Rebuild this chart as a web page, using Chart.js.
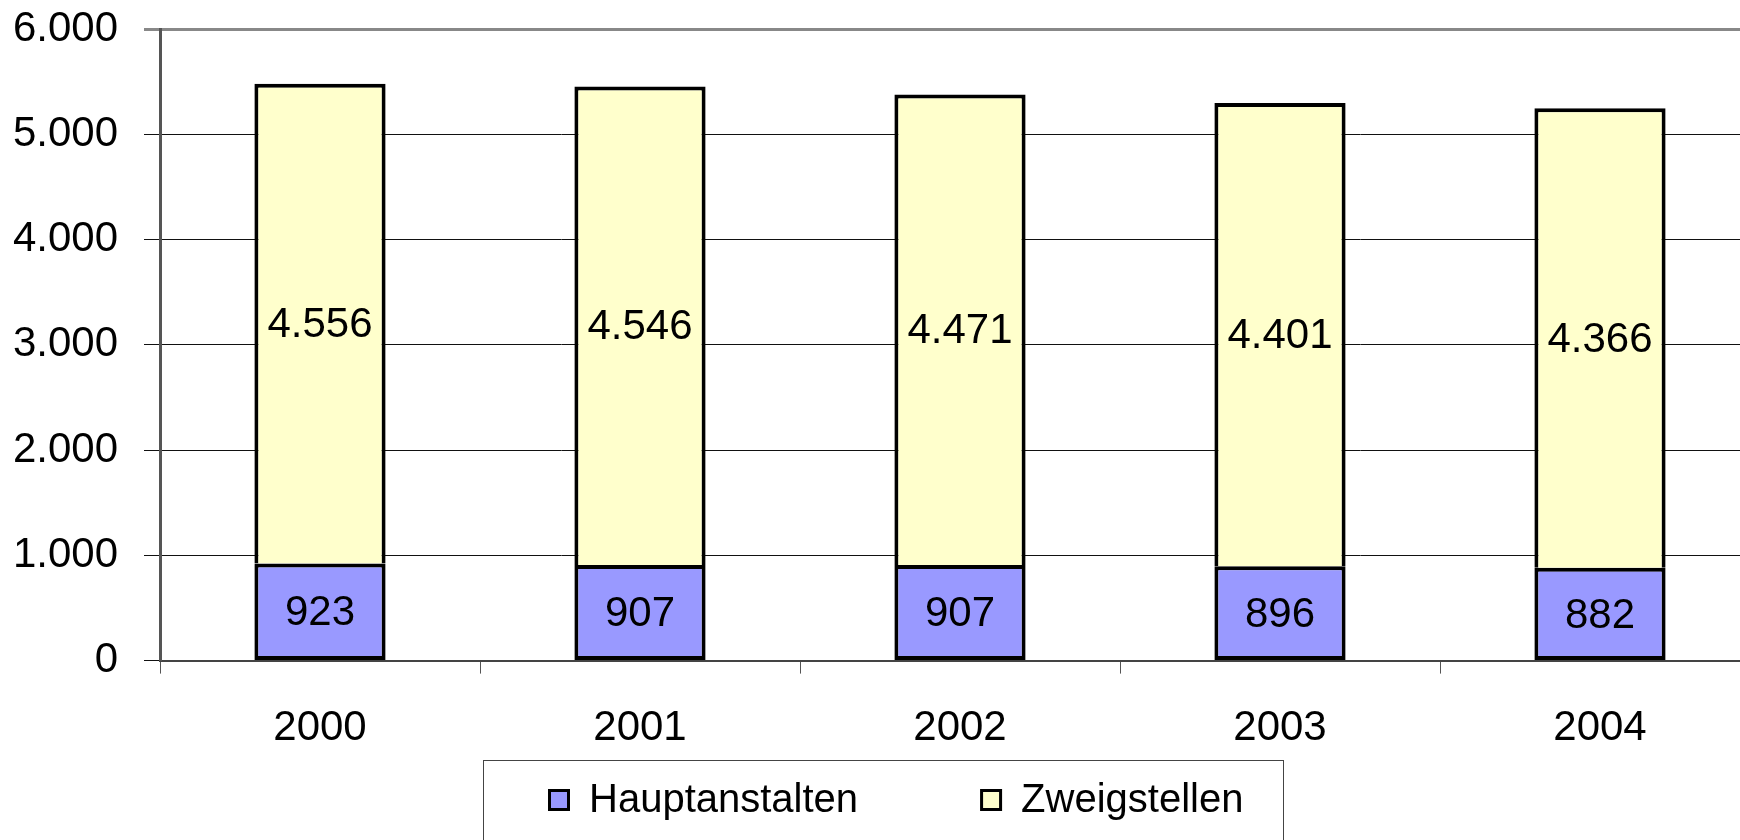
<!DOCTYPE html>
<html>
<head>
<meta charset="utf-8">
<script src="https://cdn.jsdelivr.net/npm/chart.js@4/dist/chart.umd.min.js"></script>
<style>
  html, body { margin: 0; padding: 0; background: #fff; overflow: hidden; }
  #wrap { width: 1780px; height: 840px; }
</style>
</head>
<body>
<div id="wrap"><canvas id="chart" width="1780" height="840"></canvas></div>
<script>
var years = ["2000", "2001", "2002", "2003", "2004"];
var hauptanstalten = [923, 907, 907, 896, 882];
var zweigstellen = [4556, 4546, 4471, 4401, 4366];
var seriesNames = ["Hauptanstalten", "Zweigstellen"];
var yTicks = [0, 1000, 2000, 3000, 4000, 5000, 6000];

var FONT = "'Liberation Sans', Arial, sans-serif";

function fmt(v) {
  return v.toLocaleString("de-DE");
}

// numbers in the middle of each bar segment
var valueLabels = {
  id: "valueLabels",
  afterDatasetsDraw: function (chart) {
    var ctx = chart.ctx;
    ctx.save();
    ctx.font = "42px " + FONT;
    ctx.fillStyle = "#000";
    ctx.textAlign = "center";
    ctx.textBaseline = "middle";
    chart.data.datasets.forEach(function (ds, i) {
      chart.getDatasetMeta(i).data.forEach(function (bar, j) {
        var mid = (bar.y + bar.base) / 2;
        ctx.fillText(fmt(ds.data[j]), bar.x, mid + 2);
      });
    });
    ctx.restore();
  }
};

// framed legend under the axis
var boxLegend = {
  id: "boxLegend",
  afterDraw: function (chart) {
    var ctx = chart.ctx;
    var left = chart.width / 2 - 407;
    var top = 760;
    ctx.save();
    ctx.strokeStyle = "#444";
    ctx.lineWidth = 1;
    ctx.strokeRect(left + 0.5, top + 0.5, 800, 120);

    ctx.font = "40px " + FONT;
    ctx.textBaseline = "middle";
    var x = left + 65;
    chart.data.datasets.forEach(function (ds) {
      ctx.fillStyle = ds.backgroundColor;
      ctx.fillRect(x, 789, 22, 22);
      ctx.strokeStyle = "#000";
      ctx.lineWidth = 3;
      ctx.strokeRect(x + 1.5, 790.5, 19, 19);
      ctx.fillStyle = "#000";
      ctx.fillText(ds.label, x + 41, 801);
      x += 41 + ctx.measureText(ds.label).width + 122;
    });
    ctx.restore();
  }
};

var ctx = document.getElementById("chart").getContext("2d");

new Chart(ctx, {
  type: "bar",
  data: {
    labels: years,
    datasets: [
      {
        label: seriesNames[0],
        data: hauptanstalten,
        backgroundColor: "#9999FF",
        borderColor: "#000",
        borderWidth: 4,
        borderSkipped: false
      },
      {
        label: seriesNames[1],
        data: zweigstellen,
        backgroundColor: "#FFFFCC",
        borderColor: "#000",
        borderWidth: 4,
        borderSkipped: "start"
      }
    ]
  },
  options: {
    responsive: false,
    animation: false,
    layout: { padding: { top: 29, left: 0, right: 20, bottom: 56 } },
    datasets: {
      bar: { categoryPercentage: 1.0, barPercentage: 0.41 }
    },
    plugins: {
      legend: { display: false },
      tooltip: { enabled: false }
    },
    scales: {
      x: {
        stacked: true,
        grid: {
          offset: true,
          drawOnChartArea: false,
          drawTicks: true,
          tickLength: 13,
          color: "#555",
          lineWidth: 1
        },
        border: { color: "#444", width: 2 },
        ticks: {
          color: "#000",
          padding: 30,
          font: { family: FONT, size: 42 }
        }
      },
      y: {
        stacked: true,
        min: 0,
        max: 6000,
        afterBuildTicks: function (scale) {
          scale.ticks = yTicks.map(function (v) { return { value: v }; });
        },
        afterFit: function (scale) {
          scale.width = 160;
          scale.paddingTop = 0;
          scale.paddingBottom = 0;
        },
        grid: {
          tickLength: 16,
          color: function (c) {
            return c.tick && c.tick.value === 6000 ? "#888" : "#111";
          },
          lineWidth: function (c) {
            return c.tick && c.tick.value === 6000 ? 3 : 1;
          }
        },
        border: { color: "#555", width: 3 },
        ticks: {
          color: "#000",
          padding: 26,
          font: { family: FONT, size: 42 },
          callback: function (v) { return fmt(v); }
        }
      }
    }
  },
  plugins: [valueLabels, boxLegend]
});
</script>
</body>
</html>
